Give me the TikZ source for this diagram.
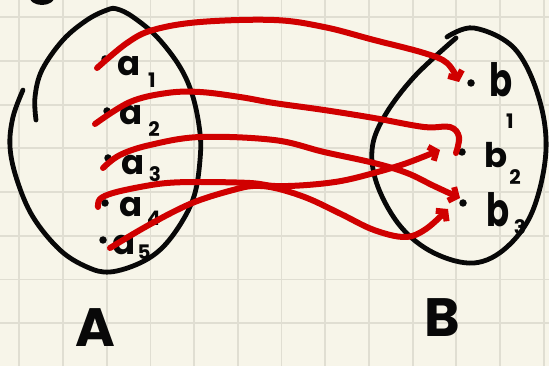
\documentclass[tikz,border=0pt]{standalone}
\usepackage{fontspec}
\setmainfont{Poppins}
\usetikzlibrary{arrows.meta,calc}
\definecolor{paper}{RGB}{247,245,233}
\definecolor{gridc}{RGB}{224,222,210}
\definecolor{ink}{RGB}{8,8,8}
\definecolor{redink}{RGB}{208,0,0}
\tikzset{
  outline/.style={draw=ink, line width=4.8pt, line cap=round, line join=round},
  dotmark/.style={circle, fill=ink, inner sep=0pt, minimum size=7.5pt},
  lbl/.style={inner sep=0pt, text=ink, font=\fontsize{34}{34}\selectfont\bfseries},
  sublbl/.style={inner sep=0pt, text=ink, font=\fontsize{20}{20}\selectfont\bfseries},
  setlbl/.style={inner sep=0pt, text=ink, font=\fontsize{54}{54}\selectfont\bfseries},
  redline/.style={draw=redink, line width=6pt, line cap=round, line join=round},
  redarrow/.style={redline, -{Straight Barb[length=6pt,width=15pt]}}
}
\begin{document}
\begin{tikzpicture}[x=1pt,y=-1pt]
\fill[paper] (0,0) rectangle (549,366);
\useasboundingbox (0,0) rectangle (549,366);
\foreach \i in {0,...,12} \draw[gridc, line width=1.8pt] ({19.3+43.7*\i},0) -- ++(0,366);
\foreach \i in {0,...,8} \draw[gridc, line width=1.8pt] (0,{17.3+43.7*\i}) -- ++(549,0);

% partial blob at top-left
\fill[ink] (42,-4) ellipse [x radius=13pt, y radius=9pt];

% set A
\draw[outline] plot[smooth, tension=0.6] coordinates {(36,120) (35,97) (42,70) (63,40) (87,20) (107,10) (117,9) (133,17) (157,37) (180,67) (193,97) (200,133) (200,160) (195,193) (183,220) (163,247) (140,263) (110,272) (87,267) (60,250) (33,217) (17,180) (10,147) (13,117) (23,90)};
% set B
\draw[outline] plot[smooth, tension=0.6] coordinates {(447,37) (474,28) (514,48) (538,95) (546,150) (533,210) (507,247) (474,263) (434,253) (401,227) (378,187) (372,150) (384,117) (414,77) (456,38)};

% elements of A
\node[dotmark] (a1) at (105,59) {};
\node[dotmark] (a2) at (107,111) {};
\node[dotmark] (a3) at (108,158) {};
\node[dotmark] (a4) at (105,203) {};
\node[dotmark] (a5) at (103,240) {};
\node[lbl] (la1) at (129,66) {a};  \node[sublbl] (na1) at (152,80) {1};
\node[lbl] (la2) at (131,115) {a}; \node[sublbl] (na2) at (154,129) {2};
\node[lbl] (la3) at (133,165) {a}; \node[sublbl] (na3) at (155,174) {3};
\node[lbl] (la4) at (131,207) {a}; \node[sublbl] (na4) at (154,218) {4};
\node[lbl] (la5) at (124,245) {a}; \node[sublbl] (na5) at (144,252) {5};

% elements of B
\node[dotmark] (b1) at (471,83) {};
\node[dotmark] (b2) at (462,152) {};
\node[dotmark] (b3) at (463,203) {};
\node[lbl, yscale=1.35] (lb1) at (501,80) {b};  \node[sublbl] (nb1) at (510,121) {1};
\node[lbl] (lb2) at (496,155) {b}; \node[sublbl] (nb2) at (515,177) {2};
\node[lbl, yscale=1.35] (lb3) at (498,210) {b}; \node[sublbl] (nb3) at (520,227) {3};

% set names
\node[setlbl] (A) at (95,328) {A};
\node[setlbl] (B) at (442,318) {B};

% connector ends
\coordinate (s1) at (97,68);
\coordinate (s2) at (95,124);
\coordinate (s3) at (103,168);
\coordinate (s4) at (98,207);
\coordinate (s5) at (110,248);
\coordinate (e1) at (459,82);
\coordinate (e2) at (456,153);
\coordinate (e3) at (460,198);
\coordinate (e4) at (440,150);
\coordinate (e5) at (448,209);

% red arrows
\draw[redarrow] plot[smooth, tension=0.6] coordinates {(s1) (127,43) (153,30) (200,22) (274,20) (324,27) (374,40) (424,53) (447,63) (e1)};
\draw[redline] plot[smooth, tension=0.6] coordinates {(s2) (130,102) (167,93) (200,92) (240,97) (274,103) (324,110) (374,118) (424,127) (450,127) (459,137) (e2)};
\draw[redarrow] plot[smooth, tension=0.6] coordinates {(s3) (120,155) (150,145) (200,137) (274,140) (324,152) (374,163) (407,173) (434,186) (e3)};
\draw[redarrow] plot[smooth, tension=0.6] coordinates {(s4) (100,199) (113,193) (140,187) (167,183) (200,182) (250,183) (275,186) (307,185) (341,181) (374,173) (407,163) (e4)};
\draw[redarrow] plot[smooth, tension=0.6] coordinates {(s5) (140,230) (173,212) (200,200) (233,190) (253,186) (275,188) (307,198) (341,214) (374,230) (405,237) (426,229) (e5)};
\end{tikzpicture}
\end{document}
